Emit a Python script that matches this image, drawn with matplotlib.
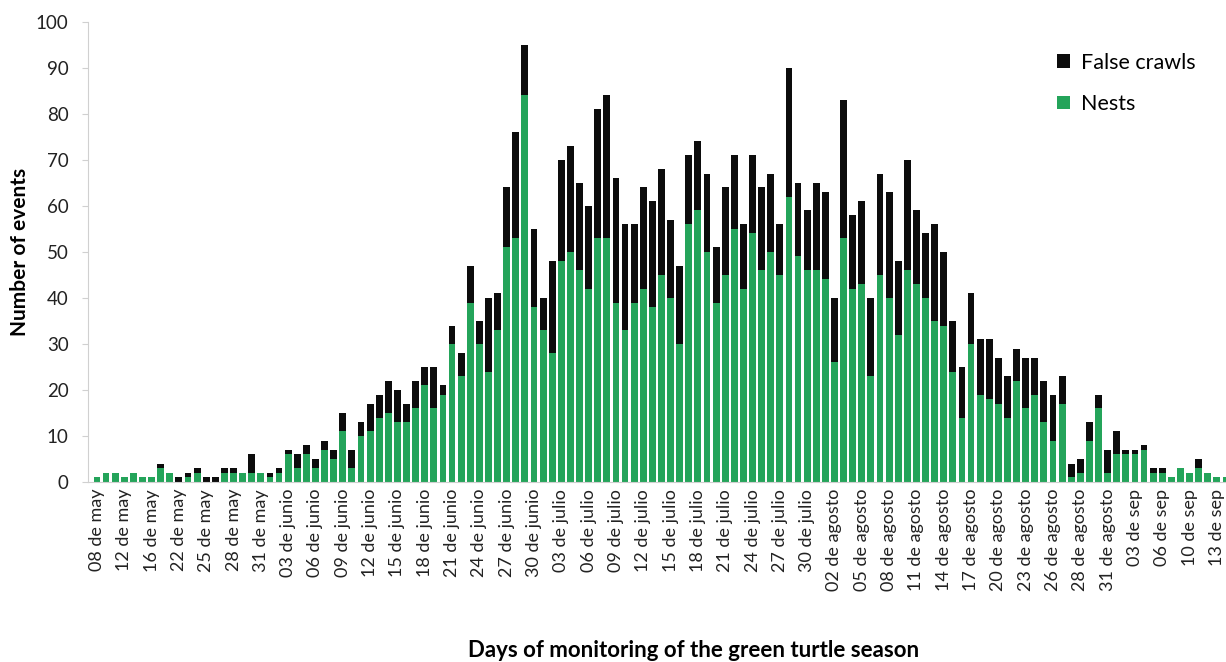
import matplotlib.pyplot as plt
import numpy as np

nests = [1, 2, 2, 1, 2, 1, 1, 3, 2, 0, 1, 2, 0, 0, 2, 2, 2, 2, 2, 1,
         2, 6, 3, 6, 3, 7, 5, 11, 3, 10, 11, 14, 15, 13, 13, 16, 21, 16, 19, 30,
         23, 39, 30, 24, 33, 51, 53, 84, 38, 33, 28, 48, 50, 46, 42, 53, 53, 39, 33, 39,
         42, 38, 45, 40, 30, 56, 59, 50, 39, 45, 55, 42, 54, 46, 50, 45, 62, 49, 46, 46,
         44, 26, 53, 42, 43, 23, 45, 40, 32, 46, 43, 40, 35, 34, 24, 14, 30, 19, 18, 17,
         14, 22, 16, 19, 13, 9, 17, 1, 2, 9, 16, 2, 6, 6, 6, 7, 2, 2, 1, 3,
         2, 3, 2, 1, 1]
false_crawls = [0, 0, 0, 0, 0, 0, 0, 1, 0, 1, 1, 1, 1, 1, 1, 1, 0, 4, 0, 1,
                1, 1, 3, 2, 2, 2, 2, 4, 4, 3, 6, 5, 7, 7, 4, 6, 4, 9, 2, 4,
                5, 8, 5, 16, 8, 13, 23, 11, 17, 7, 20, 22, 23, 19, 18, 28, 31, 27, 23, 17,
                22, 23, 23, 17, 17, 15, 15, 17, 12, 19, 16, 14, 17, 18, 17, 11, 28, 16, 13, 19,
                19, 14, 30, 16, 18, 17, 22, 23, 16, 24, 16, 14, 21, 16, 11, 11, 11, 12, 13, 10,
                9, 7, 11, 8, 9, 10, 6, 3, 3, 4, 3, 5, 5, 1, 1, 1, 1, 1, 0, 0,
                0, 2, 0, 0, 0]
tick_labels = ['08 de may', '12 de may', '16 de may', '22 de may', '25 de may', '28 de may',
               '31 de may', '03 de junio', '06 de junio', '09 de junio', '12 de junio',
               '15 de junio', '18 de junio', '21 de junio', '24 de junio', '27 de junio',
               '30 de junio', '03 de julio', '06 de julio', '09 de julio', '12 de julio',
               '15 de julio', '18 de julio', '21 de julio', '24 de julio', '27 de julio',
               '30 de julio', '02 de agosto', '05 de agosto', '08 de agosto', '11 de agosto',
               '14 de agosto', '17 de agosto', '20 de agosto', '23 de agosto', '26 de agosto',
               '28 de agosto', '31 de agosto', '03 de sep', '06 de sep', '10 de sep', '13 de sep']

plt.rcParams['font.family'] = ['Lato', 'DejaVu Sans']

x = np.arange(len(nests))
green = '#24a45a'
black = '#0c0c0c'

fig = plt.figure(figsize=(12.26, 6.62), dpi=100)
ax = fig.add_axes([0.0718, 0.272, 0.9282, 0.695])

ax.bar(x, nests, width=0.75, color=green, label='Nests')
ax.bar(x, false_crawls, width=0.75, bottom=nests, color=black, label='False crawls')

ax.set_xlim(-0.98, 124.0)
ax.set_ylim(0, 100)
ax.set_yticks(range(0, 101, 10))
ax.set_xticks(x[::3])
ax.set_xticklabels(tick_labels, rotation=90, fontsize=13, color='#222222')
ax.tick_params(axis='x', length=0, pad=5)
ax.tick_params(axis='y', labelsize=13.5, colors='#d0d0d0', labelcolor='#222222', length=4, pad=10)

for s in ['top', 'right']:
    ax.spines[s].set_visible(False)
ax.spines['left'].set_color('#d0d0d0')
ax.spines['bottom'].set_color('#d0d0d0')

ax.set_ylabel('Number of events', fontsize=15, fontweight='bold', labelpad=4)
fig.text(0.566, 0.007, 'Days of monitoring of the green turtle season',
         ha='center', fontsize=16, fontweight='bold')

h, l = ax.get_legend_handles_labels()
ax.legend(h[::-1], l[::-1], loc='upper right', bbox_to_anchor=(0.99, 0.975), frameon=False,
          fontsize=15.5, handlelength=0.6, handleheight=0.6, handletextpad=0.5, labelspacing=1.0)

plt.savefig('out.png', dpi=100)
